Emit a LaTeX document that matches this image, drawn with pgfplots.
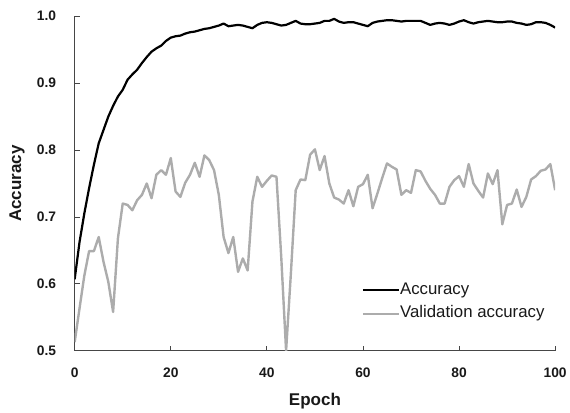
\documentclass[border=0pt]{standalone}
\usepackage{pgfplots}
\pgfplotsset{compat=1.18}
\usepackage{fontspec}
\setmainfont{Liberation Sans}

\definecolor{valgray}{RGB}{172,172,172}
\definecolor{axisgray}{RGB}{70,70,70}

% training accuracy per epoch
\pgfplotstableread{
epoch acc
0 0.607
1 0.662
2 0.705
3 0.743
4 0.778
5 0.810
6 0.830
7 0.850
8 0.866
9 0.880
10 0.890
11 0.905
12 0.913
13 0.920
14 0.930
15 0.939
16 0.947
17 0.952
18 0.956
19 0.963
20 0.968
21 0.970
22 0.971
23 0.974
24 0.976
25 0.977
26 0.979
27 0.981
28 0.982
29 0.984
30 0.986
31 0.989
32 0.985
33 0.986
34 0.987
35 0.986
36 0.984
37 0.982
38 0.987
39 0.990
40 0.991
41 0.990
42 0.988
43 0.986
44 0.987
45 0.990
46 0.993
47 0.989
48 0.988
49 0.988
50 0.989
51 0.990
52 0.993
53 0.993
54 0.996
55 0.992
56 0.990
57 0.991
58 0.991
59 0.989
60 0.987
61 0.985
62 0.990
63 0.992
64 0.993
65 0.994
66 0.994
67 0.993
68 0.992
69 0.993
70 0.993
71 0.993
72 0.993
73 0.990
74 0.987
75 0.989
76 0.990
77 0.989
78 0.987
79 0.989
80 0.992
81 0.994
82 0.991
83 0.989
84 0.991
85 0.992
86 0.993
87 0.992
88 0.991
89 0.991
90 0.992
91 0.992
92 0.990
93 0.989
94 0.987
95 0.988
96 0.991
97 0.991
98 0.990
99 0.987
100 0.983
}\trainacc

% validation accuracy per epoch
\pgfplotstableread{
epoch acc
0 0.513
1 0.563
2 0.612
3 0.649
4 0.649
5 0.670
6 0.633
7 0.603
8 0.558
9 0.668
10 0.720
11 0.718
12 0.710
13 0.725
14 0.733
15 0.750
16 0.728
17 0.763
18 0.770
19 0.763
20 0.788
21 0.738
22 0.730
23 0.751
24 0.763
25 0.781
26 0.760
27 0.792
28 0.785
29 0.770
30 0.733
31 0.670
32 0.646
33 0.670
34 0.618
35 0.638
36 0.620
37 0.723
38 0.760
39 0.745
40 0.754
41 0.762
42 0.760
43 0.639
44 0.500
45 0.616
46 0.740
47 0.756
48 0.755
49 0.793
50 0.801
51 0.770
52 0.791
53 0.750
54 0.729
55 0.726
56 0.720
57 0.740
58 0.716
59 0.745
60 0.749
61 0.763
62 0.713
63 0.735
64 0.758
65 0.780
66 0.775
67 0.771
68 0.733
69 0.740
70 0.736
71 0.770
72 0.768
73 0.754
74 0.742
75 0.733
76 0.720
77 0.720
78 0.745
79 0.755
80 0.761
81 0.745
82 0.779
83 0.750
84 0.739
85 0.729
86 0.765
87 0.749
88 0.770
89 0.689
90 0.718
91 0.720
92 0.741
93 0.715
94 0.730
95 0.756
96 0.761
97 0.769
98 0.771
99 0.779
100 0.740
}\valacc

\begin{document}
\begin{tikzpicture}
\begin{axis}[
  name=ax,
  scale only axis,
  width=480.6pt, height=334.7pt,
  xmin=0, xmax=100, ymin=0.5, ymax=1.0,
  axis x line*=bottom, axis y line*=left,
  axis line style={-, axisgray, line width=0.9pt},
  xtick={0,20,...,100},
  ytick={0.5,0.6,...,1.0},
  tick align=inside,
  major tick length=5pt,
  tick style={axisgray, line width=0.9pt},
  /pgf/number format/assume math mode=true,
  yticklabel style={/pgf/number format/fixed, /pgf/number format/fixed zerofill,
    /pgf/number format/precision=1, xshift=-15pt},
  xticklabel style={yshift=-14pt},
  tick label style={font=\fontsize{13.8}{16}\selectfont\bfseries, text=black!90},
  xlabel={Epoch},
  ylabel={Accuracy},
  every axis x label/.style={at={(rel axis cs:0.5,0)}, anchor=center, yshift=-50pt},
  every axis y label/.style={at={(rel axis cs:-0.12,0.5)}, anchor=center, rotate=90},
  label style={font=\fontsize{17}{20}\selectfont\bfseries, text=black!90},
  legend style={at={(axis cs:59.7,0.603)}, anchor=north west, draw=none, fill=none,
    inner sep=0pt, row sep=7.7pt,
    nodes={text height=12pt, text depth=4pt, inner sep=0pt, anchor=west},
    font=\fontsize{16.8}{19}\selectfont, text=black!90},
  legend cell align=left,
  legend image code/.code={\draw[#1] (0pt,0pt) -- (36pt,0pt);},
  line join=round,
]
\addplot[black, line width=2.2pt] table[x=epoch, y=acc] {\trainacc};
\addlegendentry{Accuracy}
\addplot[valgray, line width=2.4pt] table[x=epoch, y=acc] {\valacc};
\addlegendentry{Validation accuracy}
\end{axis}
\path ([xshift=-74.7pt,yshift=-61.3pt]ax.south west) rectangle ([xshift=14.7pt,yshift=16.2pt]ax.north east);
\end{tikzpicture}
\end{document}
